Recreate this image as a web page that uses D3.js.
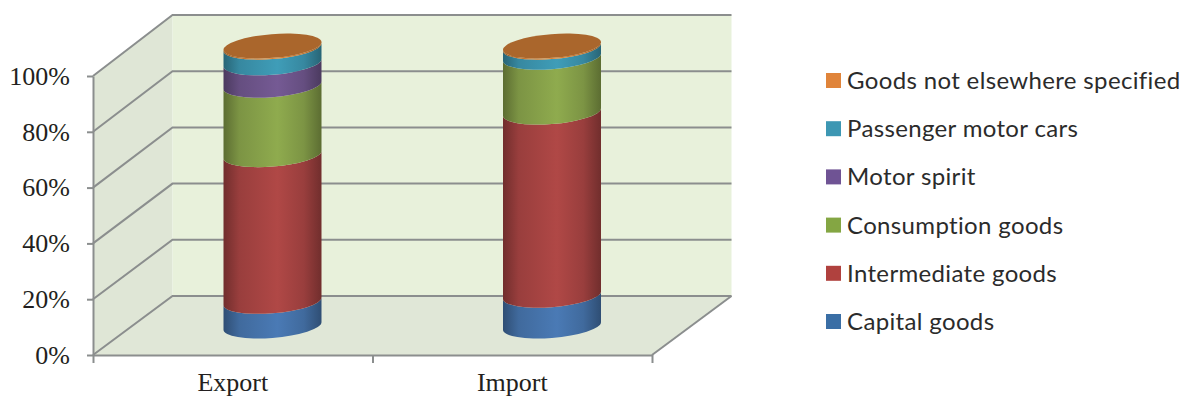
<!DOCTYPE html>
<html>
<head>
<meta charset="utf-8">
<script src="https://cdn.jsdelivr.net/npm/d3@7"></script>
<style>
  html, body { margin: 0; padding: 0; background: #fff; }
  svg { display: block; }
</style>
</head>
<body>
<svg id="chart" width="1183" height="398"></svg>
<script>
// Trade composition by goods group, share of total (%)
const categories = ["Export", "Import"];
const seriesNames = ["Capital goods", "Intermediate goods", "Consumption goods", "Motor spirit", "Passenger motor cars", "Goods not elsewhere specified"];
const exportShares = [8.8, 52.4, 24.8, 8.0, 5.6, 0.4];
const importShares = [11.0, 65.4, 19.6, 0.0, 3.6, 0.4];
const yTicks = [0, 20, 40, 60, 80, 100];
const seriesColors = ["#4a7ab5", "#b04846", "#8fab4e", "#755a94", "#3f9db8", "#e08537"];
const legendColors = ["#3a6ea5", "#b0413e", "#84a643", "#6f5394", "#3d97b3", "#e0843a"];

const svg = d3.select("#chart");
const defs = svg.append("defs");

// Box geometry: front plane, back plane and the mid plane the cylinders stand on
const xFront = d3.scaleBand().domain(categories).range([93, 652]);
const yFront = d3.scaleLinear().domain([0, 100]).range([355, 76]);
const yBack = d3.scaleLinear().domain([0, 100]).range([296, 15]);
const yMid = d3.scaleLinear().domain([0, 100]).range([326, 46]);
const depthX = 79.5;

const gridColor = "#8b8e8e";
const poly = pts => "M" + pts.map(p => p.join(",")).join("L") + "Z";
const x0 = xFront.range()[0], x1 = xFront.range()[1];

// Floor and walls
svg.append("path").attr("fill", "#e0e7d7")
  .attr("d", poly([[x0, yFront(0)], [x0 + depthX, yBack(0)], [x1 + depthX, yBack(0)], [x1, yFront(0)]]));
svg.append("path").attr("fill", "#dfe6d6")
  .attr("d", poly([[x0, yFront(0)], [x0, yFront(100)], [x0 + depthX, yBack(100)], [x0 + depthX, yBack(0)]]));
svg.append("path").attr("fill", "#e8f1db")
  .attr("d", poly([[x0 + depthX, yBack(0)], [x0 + depthX, yBack(100)], [x1 + depthX, yBack(100)], [x1 + depthX, yBack(0)]]));

// Gridlines wrap from the side wall onto the back wall
const grid = svg.append("g").attr("fill", "none").attr("stroke", gridColor).attr("stroke-width", 2);
grid.selectAll("path").data(yTicks).join("path")
  .attr("d", t => `M${x0},${yFront(t)}L${x0 + depthX},${yBack(t)}L${x1 + depthX},${yBack(t)}`);
grid.append("path")
  .attr("d", `M${x1 + depthX},${yBack(0)}L${x1},${yFront(0)}`);

// Axes
function styleAxis(g) {
  g.select(".domain").attr("stroke", gridColor).attr("stroke-width", 2);
  g.selectAll(".tick line").attr("stroke", gridColor).attr("stroke-width", 2);
  g.selectAll("text")
    .attr("font-family", "'Liberation Serif', serif")
    .attr("font-size", 26)
    .attr("fill", "#231f20");
}
svg.append("g")
  .attr("transform", `translate(${x0},0)`)
  .call(d3.axisLeft(yFront).tickValues(yTicks).tickSize(6).tickPadding(17).tickSizeOuter(0).tickFormat(d => d + "%"))
  .call(styleAxis);

const boundaries = d3.scaleLinear().domain([0, categories.length]).range([x0, x1]);
svg.append("g")
  .attr("transform", `translate(0,${yFront(0)})`)
  .call(d3.axisBottom(boundaries).tickValues(d3.range(categories.length + 1)).tickSize(8).tickSizeOuter(0).tickFormat(""))
  .call(styleAxis);
svg.append("g")
  .attr("transform", `translate(0,${yFront(0)})`)
  .call(d3.axisBottom(xFront).tickSize(0).tickPadding(18))
  .call(styleAxis)
  .call(g => g.select(".domain").remove());

// Cylinder shading runs across the width, dark at both edges
seriesColors.forEach((c, i) => {
  const grad = defs.append("linearGradient").attr("id", "shade" + i);
  const dark = d3.color(c).darker(1.25), mid = d3.color(c).darker(0.4);
  [[0, dark], [0.16, mid], [0.55, c], [0.82, mid], [1, dark]].forEach(([o, col]) =>
    grad.append("stop").attr("offset", o).attr("stop-color", col));
});

// Tilted ellipse of each cylinder cross-section
const axisA = 49.15, axisB = 11.9, tiltDeg = -4.66;
const tilt = tiltDeg * Math.PI / 180;
const halfW = Math.hypot(axisA * Math.cos(tilt), axisB * Math.sin(tilt));
const edgeDrop = (axisA * axisA - axisB * axisB) * Math.sin(-tilt) * Math.cos(tilt) / halfW;

const shares = [exportShares, importShares];
const rows = categories.map((c, i) => {
  const row = { category: c };
  seriesNames.forEach((s, j) => { row[s] = shares[i][j]; });
  return row;
});
const stacked = d3.stack().keys(seriesNames)(rows);

function segment(cx, v0, v1) {
  const yl = v => yMid(v) + edgeDrop, yr = v => yMid(v) - edgeDrop;
  const L = cx - halfW, R = cx + halfW;
  return `M${L},${yl(v0)}A${axisA},${axisB},${tiltDeg},0,0,${R},${yr(v0)}` +
         `L${R},${yr(v1)}A${axisA},${axisB},${tiltDeg},0,1,${L},${yl(v1)}Z`;
}

const cxOf = c => xFront(c) + xFront.bandwidth() / 2 + depthX / 2;

stacked.forEach((layer, i) => {
  svg.append("g").selectAll("path")
    .data(layer.filter(d => d[1] > d[0]))
    .join("path")
    .attr("fill", `url(#shade${i})`)
    .attr("d", d => segment(cxOf(d.data.category), d[0], d[1]));
});

// Top cap of each cylinder
svg.append("g").selectAll("ellipse").data(categories).join("ellipse")
  .attr("rx", axisA).attr("ry", axisB)
  .attr("fill", "#aa662c")
  .attr("transform", c => `translate(${cxOf(c)},${yMid(100)}) rotate(${tiltDeg})`);

// Legend, first series at the bottom
const legendY = d3.scalePoint().domain(seriesNames).range([321.5, 80.5]);
const legend = svg.append("g").selectAll("g").data(seriesNames).join("g")
  .attr("transform", d => `translate(826,${legendY(d)})`);
legend.append("rect")
  .attr("y", -7.5).attr("width", 15).attr("height", 15)
  .attr("fill", (d, i) => legendColors[i]);
legend.append("text")
  .attr("x", 21).attr("y", 0).attr("dy", "0.35em")
  .attr("font-family", "Lato, sans-serif")
  .attr("font-size", 24)
  .attr("letter-spacing", 0.35)
  .attr("fill", "#2b2b2b")
  .text(d => d);
</script>
</body>
</html>
